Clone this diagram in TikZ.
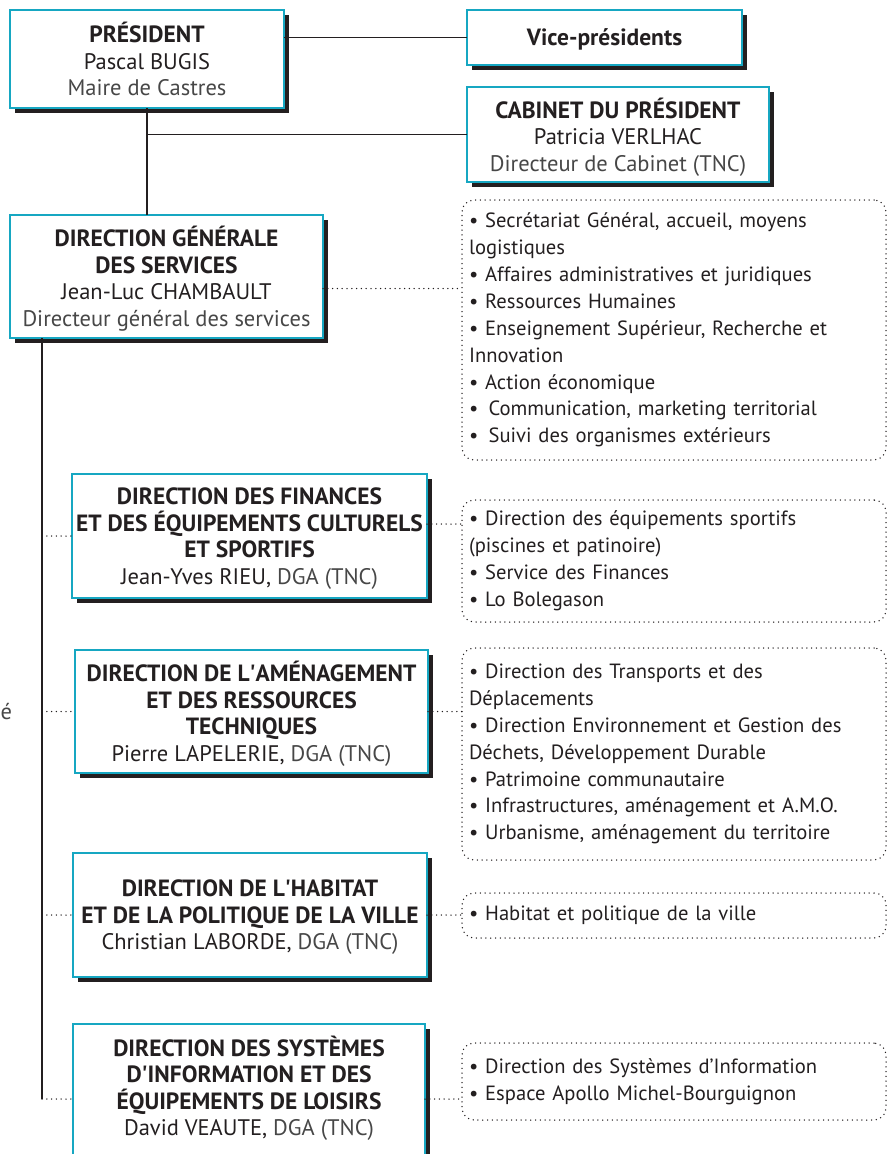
\documentclass[tikz,border=0pt]{standalone}
\usepackage{fontspec}
\setmainfont{PT Sans}
\usetikzlibrary{shadows}
\definecolor{bordcyan}{RGB}{22,167,194}
\definecolor{encre}{RGB}{35,31,32}
\newcommand{\clair}[1]{{\color{black!72}#1}}
\newcommand{\titre}[1]{{\fontsize{23.5}{26.5}\selectfont\bfseries #1}}
\newcommand{\apos}{\textquotesingle}
\tikzset{
  cadre/.style={draw=bordcyan, line width=2.5pt, fill=white, anchor=north west, outer sep=0pt, inner sep=0pt, align=center, text=encre, font=\fontsize{22.5}{26.5}\selectfont, text depth=0pt, drop shadow={shadow xshift=5pt, shadow yshift=-5pt, opacity=1, fill=encre}},
  liste/.style={draw=encre, line width=1.5pt, dash pattern=on 0pt off 4.8pt, line cap=round, rounded corners=12pt, anchor=north west, outer sep=0pt, inner xsep=7pt, minimum width=424pt, text width=410pt, align=left, text=encre, font=\fontsize{20.6}{26.9}\selectfont},
  trait/.style={draw=encre, line width=1.9pt},
  pointille/.style={draw=encre, line width=1.5pt, dash pattern=on 0pt off 4.8pt, line cap=round}
}
\begin{document}
\begin{tikzpicture}[x=1pt,y=-1pt]
\useasboundingbox (0,0) rectangle (889,1154);
\clip (0,0) rectangle (889,1154);
\node (pres)[cadre, minimum width=274pt, minimum height=98pt] at (10,10) {\titre{PRÉSIDENT}\\Pascal BUGIS\\\clair{Maire de Castres}};
\node (vp)[cadre, minimum width=275pt, minimum height=55pt] at (467,10) {\titre{Vice-présidents}};
\node (cab)[cadre, minimum width=302pt, minimum height=95pt] at (467,87) {\titre{CABINET DU PRÉSIDENT}\\Patricia VERLHAC\\\clair{Directeur de Cabinet (TNC)}};
\node (dgs)[cadre, minimum width=313pt, minimum height=123pt] at (10,215) {\titre{DIRECTION GÉNÉRALE}\\\titre{DES SERVICES}\\Jean-Luc CHAMBAULT\\\clair{Directeur général des services}};
\node (fin)[cadre, minimum width=355pt, minimum height=124pt] at (72,474) {\titre{DIRECTION DES FINANCES}\\\titre{ET DES ÉQUIPEMENTS CULTURELS}\\\titre{ET SPORTIFS}\\Jean-Yves RIEU, \clair{DGA (TNC)}};
\node (amen)[cadre, minimum width=353pt, minimum height=123pt] at (75,650) {\titre{DIRECTION DE L\apos AMÉNAGEMENT}\\\titre{ET DES RESSOURCES}\\\titre{TECHNIQUES}\\Pierre LAPELERIE, \clair{DGA (TNC)}};
\node (hab)[cadre, minimum width=354pt, minimum height=124pt] at (73,853) {\titre{DIRECTION DE L\apos HABITAT}\\\titre{ET DE LA POLITIQUE DE LA VILLE}\\Christian LABORDE, \clair{DGA (TNC)}};
\node (sys)[cadre, minimum width=352pt, minimum height=150pt] at (73,1024) {\titre{DIRECTION DES SYSTÈMES}\\\titre{D\apos INFORMATION ET DES}\\\titre{ÉQUIPEMENTS DE LOISIRS}\\David VEAUTE, \clair{DGA (TNC)}\\\mbox{}};

\node (det-dgs)[liste, minimum height=260pt] at (462,200) {• Secrétariat Général, accueil, moyens\\logistiques\\• Affaires administratives et juridiques\\• Ressources Humaines\\• Enseignement Supérieur, Recherche et\\Innovation\\• Action économique\\• \,Communication, marketing territorial\\• \,Suivi des organismes extérieurs};
\node (det-fin)[liste, minimum height=122pt] at (462,500) {• Direction des équipements sportifs\\(piscines et patinoire)\\• Service des Finances\\• Lo Bolegason};
\node (det-amen)[liste, minimum height=212pt] at (462,648) {• Direction des Transports et des\\Déplacements\\• Direction Environnement et Gestion des\\Déchets, Développement Durable\\• Patrimoine communautaire\\• Infrastructures, aménagement et A.M.O.\\• Urbanisme, aménagement du territoire};
\node (det-hab)[liste, minimum height=45pt] at (462,893) {• Habitat et politique de la ville};
\node (det-sys)[liste, minimum height=77pt] at (462,1043) {• Direction des Systèmes d’Information\\• Espace Apollo Michel-Bourguignon};
\node (bord)[anchor=base west, text=black!72, font=\fontsize{22.5}{26.5}\selectfont, inner sep=0pt] at (0.5,719) {é};

\coordinate (tronc) at ([xshift=32pt]dgs.south west);
\draw[trait] (pres.east |- vp.west) -- (vp.west);
\draw[trait] (pres.south) -- (pres.south |- dgs.north);
\draw[trait] (pres.south |- cab.west) -- (cab.west);
\draw[trait] (tronc) -- (tronc |- sys.west);
\draw[pointille] (tronc |- sys.west) -- (sys.west);
\foreach \n in {fin,amen,hab}
  \draw[pointille] (tronc |- \n.west) -- (\n.west);
\draw[pointille] ([yshift=-12pt]dgs.east) -- ([yshift=-12pt]dgs.east -| det-dgs.west);
\draw[pointille] ([yshift=12pt]fin.east) -- ([yshift=12pt]fin.east -| det-fin.west);
\foreach \n in {amen,hab,sys}
  \draw[pointille] (\n.east) -- (\n.east -| det-\n.west);
\end{tikzpicture}
\end{document}
